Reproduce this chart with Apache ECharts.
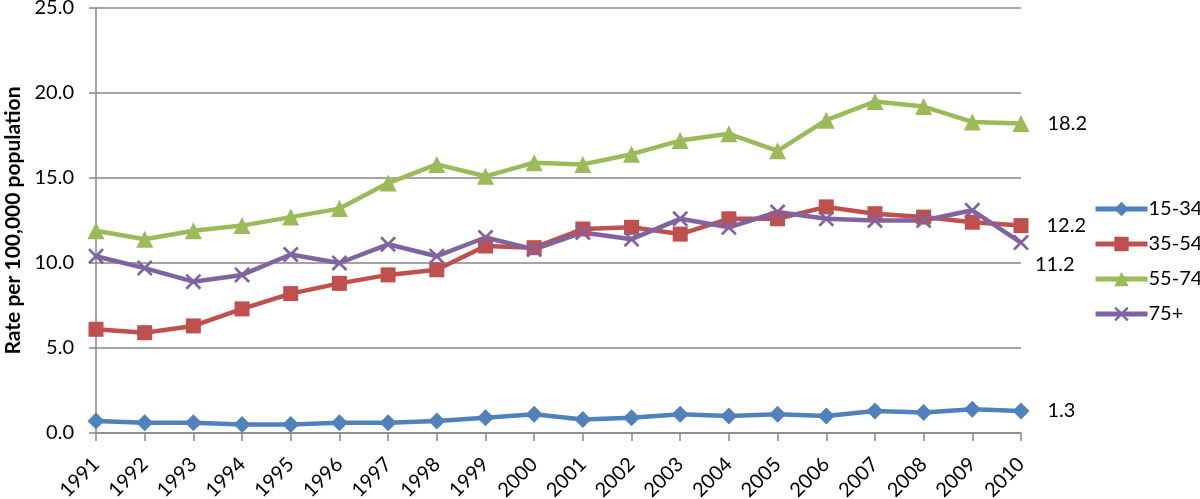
<!DOCTYPE html>
<html>
<head>
<meta charset="utf-8">
<script src="https://cdn.jsdelivr.net/npm/echarts@6/dist/echarts.min.js"></script>
<style>html,body{margin:0;padding:0;background:#fff}#c{width:1200px;height:499px}</style>
</head>
<body>
<div id="c"></div>
<script>
var years = ['1991','1992','1993','1994','1995','1996','1997','1998','1999','2000','2001','2002','2003','2004','2005','2006','2007','2008','2009','2010'];
var s15_34 = [0.7,0.6,0.6,0.5,0.5,0.6,0.6,0.7,0.9,1.1,0.8,0.9,1.1,1.0,1.1,1.0,1.3,1.2,1.4,1.3];
var s35_54 = [6.1,5.9,6.3,7.3,8.2,8.8,9.3,9.6,11.0,10.9,12.0,12.1,11.7,12.6,12.6,13.3,12.9,12.7,12.4,12.2];
var s55_74 = [11.9,11.4,11.9,12.2,12.7,13.2,14.7,15.8,15.1,15.9,15.8,16.4,17.2,17.6,16.6,18.4,19.5,19.2,18.3,18.2];
var s75p   = [10.4,9.7,8.9,9.3,10.5,10.0,11.1,10.4,11.5,10.8,11.8,11.4,12.6,12.1,13.0,12.6,12.5,12.5,13.1,11.2];
var yTicks = {min:0, max:25, interval:5};
var seriesNames = ['15-34','35-54','55-74','75+'];

var FONT = 'Lato, "Open Sans", sans-serif';
var crossPath = 'path://M0,1.2 L1.2,0 L5,3.8 L8.8,0 L10,1.2 L6.2,5 L10,8.8 L8.8,10 L5,6.2 L1.2,10 L0,8.8 L3.8,5 Z';

function mk(name, data, color, symbol, size, labelOpt) {
  var d = data.map(function (v, i) {
    if (i === data.length - 1) {
      return {value: v, label: Object.assign({show: true, position: 'right', distance: 18,
        color: '#000', fontSize: 20, fontFamily: FONT,
        formatter: function (p) { return p.value.toFixed(1); }}, labelOpt || {})};
    }
    return v;
  });
  return {
    name: name, type: 'line', data: d,
    symbol: symbol, symbolSize: size,
    lineStyle: {color: color, width: 4.5},
    itemStyle: {color: color},
    emphasis: {disabled: true}
  };
}

var chart = echarts.init(document.getElementById('c'));
chart.setOption({
  animation: false,
  grid: {left: 96, right: 179, top: 8, bottom: 66, containLabel: false, outerBoundsMode: 'none'},
  legend: {
    orient: 'vertical', left: 1088, top: 194, itemGap: 15, itemWidth: 52, itemHeight: 18,
    lineStyle: {width: 5},
    textStyle: {fontSize: 20, fontFamily: FONT, color: '#000', padding: [0,0,0,-4]},
    data: seriesNames
  },
  xAxis: {
    type: 'category', data: years, boundaryGap: false,
    axisLine: {lineStyle: {color: '#868686', width: 1.5}},
    axisTick: {show: true, length: 8, alignWithLabel: true, lineStyle: {color: '#868686', width: 1.5}},
    axisLabel: {rotate: 45, fontSize: 20, fontFamily: FONT, color: '#000', margin: 28, interval: 0},
    splitLine: {show: false}
  },
  yAxis: {
    type: 'value', min: yTicks.min, max: yTicks.max, interval: yTicks.interval,
    name: 'Rate per 100,000 population', nameLocation: 'middle', nameGap: 72,
    nameTextStyle: {fontSize: 21, fontWeight: 'bold', fontFamily: FONT, color: '#000'},
    axisLine: {show: true, lineStyle: {color: '#868686', width: 1.5}},
    axisTick: {show: true, length: 7, lineStyle: {color: '#868686', width: 1.5}},
    axisLabel: {fontSize: 20, fontFamily: FONT, color: '#000', margin: 22,
      formatter: function (v) { return v.toFixed(1); }},
    splitLine: {show: true, lineStyle: {color: '#868686', width: 1.5}}
  },
  series: [
    mk('15-34', s15_34, '#4F81BD', 'diamond', 17),
    mk('35-54', s35_54, '#C0504D', 'rect', 15),
    mk('55-74', s55_74, '#9BBB59', 'triangle', 17),
    mk('75+', s75p, '#8064A2', crossPath, 16, {position: 'right', distance: 6, offset: [0, 22]})
  ]
});
</script>
</body>
</html>
